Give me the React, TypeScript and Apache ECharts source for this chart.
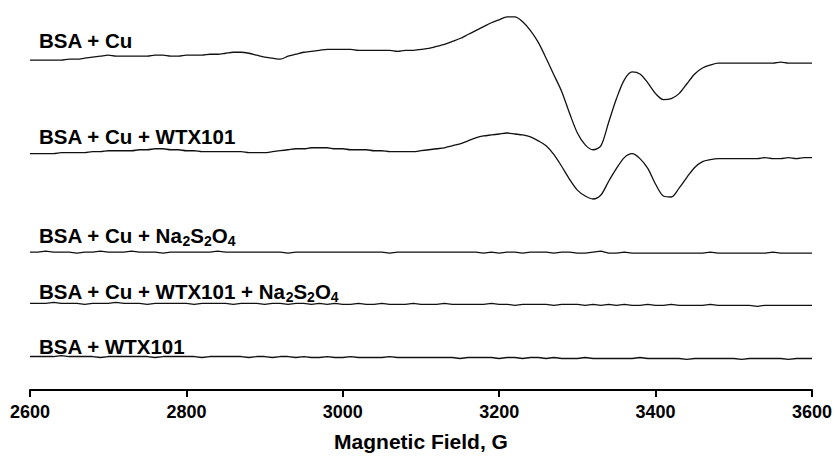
import React, { useEffect, useRef } from "react";
import * as echarts from "echarts";

// Magnetic field (G), sampled every 10 G
const fieldStart = 2600;
const fieldStep = 10;
const xTicks = [2600, 2800, 3000, 3200, 3400, 3600];

const seriesNames = [
  "BSA + Cu",
  "BSA + Cu + WTX101",
  "BSA + Cu + Na2S2O4",
  "BSA + Cu + WTX101 + Na2S2O4",
  "BSA + WTX101",
];

// EPR signal (arbitrary units, relative to each trace's left baseline)
const bsaCu = [
  0, 0, 0, 0, 0, 1, 1, 2, 3, 4,
  5, 4, 4, 4, 4, 4, 5, 5, 4, 4,
  5, 5, 5, 6, 6, 7, 8, 8, 7, 5,
  3, 2, 1, 4, 6, 8, 9, 10, 11, 11,
  11, 11, 10, 10, 10, 10, 10, 9, 10, 10,
  11, 12, 14, 16, 19, 22, 26, 30, 34, 38,
  41, 44, 44, 39, 30, 18, 2, -15, -32, -54,
  -74, -86, -91, -87, -63, -39, -20, -12, -14, -23,
  -34, -40, -39, -34, -24, -14, -8, -5, -3, -3,
  -3, -3, -3, -3, -3, -3, -2, -3, -3, -3,
  -3,
];

const bsaCuWtx = [
  0, 0, 0, 0, 1, 1, 1, 1, 2, 2,
  3, 3, 3, 3, 4, 4, 5, 5, 4, 4,
  3, 3, 2, 2, 2, 2, 2, 2, 1, 1,
  1, 2, 3, 4, 5, 5, 6, 6, 6, 5,
  5, 4, 4, 4, 3, 3, 2, 2, 2, 2,
  3, 4, 5, 6, 8, 10, 13, 16, 18, 19,
  20, 21, 20, 19, 17, 13, 8, -1, -13, -26,
  -37, -43, -46, -42, -28, -15, -4, 0, -5, -15,
  -31, -43, -44, -35, -24, -14, -8, -6, -5, -5,
  -5, -5, -5, -5, -4, -5, -5, -4, -5, -4,
  -4,
];

const bsaCuNa = [
  0, 0, 1, 0, 0, 0, -1, 0, 0, 1,
  0, 0, 0, 1, 0, 0, 0, -1, 0, 0,
  0, 0, 0, 0, 1, 0, 0, 0, 0, 0,
  0, 0, 0, -1, 0, 0, 0, 0, 0, 0,
  0, 0, 0, 0, 0, 0, -1, 0, 0, 0,
  0, 0, 0, 0, 0, 0, 0, 0, -1, 0,
  -1, 0, 0, -1, 0, 0, 0, -1, 0, 0,
  -1, -1, 0, 1, -1, -1, 0, -1, -1, -1,
  -1, -1, -1, -1, -1, -1, -1, 0, -1, -1,
  -1, -1, -1, -1, -1, 0, -1, -1, -1, -1,
  -1,
];

const bsaCuWtxNa = [
  0, 0, 0, 1, 0, 0, 0, -1, 0, 0,
  0, 1, 0, 0, 0, -1, 0, 0, 0, 0,
  0, -1, 0, 0, 0, 0, -1, 0, 0, 0,
  -1, 0, 0, -1, 0, 0, -1, 0, -1, 0,
  -1, -1, 0, -1, -1, 0, -1, -1, -1, 0,
  -1, -1, -1, 0, -1, -1, -1, -1, -1, 0,
  -1, -1, -2, -1, -1, -1, -1, -2, -1, -1,
  -1, -2, -1, -2, -1, -2, -1, -2, -2, -1,
  -2, -2, -1, -2, -2, -2, -2, -1, -2, -2,
  -2, -2, -2, -3, -2, -2, -2, -2, -2, -2,
  -2,
];

const bsaWtx = [
  0, 0, 0, 0, 1, 0, 0, 0, 0, -1,
  0, 0, 0, 0, 0, 0, -1, 0, 0, 0,
  0, 0, -1, 0, 0, 0, 0, 0, -1, 0,
  0, -1, 0, 0, -1, 0, -1, -1, 0, -1,
  -1, 0, -1, -1, -1, -1, 0, -1, -1, -1,
  -1, -1, -1, -1, -1, -2, -1, -1, -1, -1,
  -2, -1, -1, -2, -1, -1, -2, -1, -2, -2,
  -2, -1, -2, -2, -2, -2, -2, -2, -1, -2,
  -2, -2, -2, -2, -3, -2, -2, -2, -2, -2,
  -2, -3, -2, -2, -2, -2, -2, -3, -2, -2,
  -2,
];

const seriesData = [bsaCu, bsaCuWtx, bsaCuNa, bsaCuWtxNa, bsaWtx];

// layout (vertical placement of each trace, in plot units)
const traceOffsets = [335, 240, 140, 88, 34];
const labelY = [40.3, 136.7, 235.8, 291.5, 346.8];
const labelRich = [
  "{m|BSA + Cu}",
  "{m|BSA + Cu + WTX101}",
  "{m|BSA + Cu + Na}{s|2}{m|S}{s|2}{m|O}{s|4}",
  "{m|BSA + Cu + WTX101 + Na}{s|2}{m|S}{s|2}{m|O}{s|4}",
  "{m|BSA + WTX101}",
];

const FONT = '"Liberation Sans", Arial, Helvetica, sans-serif';

export default function App() {
  const ref = useRef<HTMLDivElement>(null);

  useEffect(() => {
    if (!ref.current) return;
    const chart = echarts.init(ref.current, undefined, { renderer: "svg" });

    const series = seriesData.map((vals, i) => ({
      name: seriesNames[i],
      type: "line",
      data: vals.map((v, k) => [fieldStart + k * fieldStep, v + traceOffsets[i]]),
      showSymbol: false,
      smooth: i < 2 ? 0.3 : false,
      lineStyle: { color: "#111", width: 1.3 },
      silent: true,
    }));

    const graphics = labelRich.map((t, i) => ({
      type: "text",
      x: 39,
      y: labelY[i],
      silent: true,
      style: {
        text: t,
        fill: "#000",
        verticalAlign: "middle",
        align: "left",
        rich: {
          m: {
            fontSize: 20.5,
            fontWeight: "bold",
            fontFamily: FONT,
            lineHeight: 24,
            fill: "#000",
            color: "#000",
          },
          s: {
            fontSize: 14,
            fontWeight: "bold",
            fontFamily: FONT,
            lineHeight: 12,
            verticalAlign: "bottom",
            fill: "#000",
            color: "#000",
          },
        },
      },
    }));

    chart.setOption({
      animation: false,
      backgroundColor: "#ffffff",
      grid: { left: 30, right: 24, top: 5, bottom: 61, containLabel: false },
      xAxis: {
        type: "value",
        min: xTicks[0],
        max: xTicks[xTicks.length - 1],
        interval: xTicks[1] - xTicks[0],
        splitLine: { show: false },
        axisLine: { show: true, lineStyle: { color: "#000", width: 2 } },
        axisTick: { show: true, inside: false, length: 7, lineStyle: { color: "#000", width: 2 } },
        axisLabel: {
          show: true,
          margin: 13,
          color: "#000",
          fontSize: 18,
          fontWeight: "bold",
          fontFamily: FONT,
          showMinLabel: true,
          showMaxLabel: true,
          formatter: (v: number) => String(v),
        },
        name: "Magnetic Field, G",
        nameLocation: "middle",
        nameGap: 41,
        nameTextStyle: { color: "#000", fontSize: 21, fontWeight: "bold", fontFamily: FONT },
      },
      yAxis: {
        type: "value",
        min: 0,
        max: 391,
        show: false,
        splitLine: { show: false },
      },
      series,
      graphic: graphics,
    });

    return () => chart.dispose();
  }, []);

  return <div ref={ref} style={{ width: 836, height: 457, position: "absolute", left: 0, top: 0 }} />;
}
